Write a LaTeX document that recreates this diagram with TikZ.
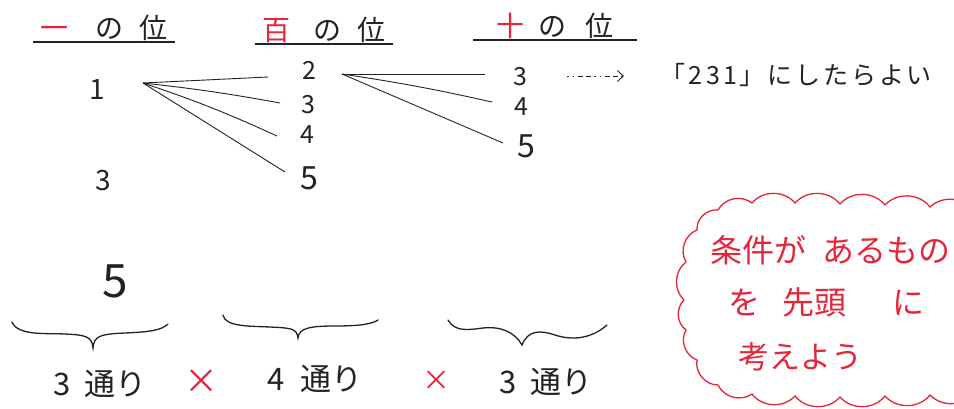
\documentclass[tikz,border=0pt]{standalone}
\usepackage{fontspec}
\setmainfont{Noto Sans CJK JP}
\usetikzlibrary{calc,arrows.meta}
\definecolor{pen}{RGB}{35,35,35}
\definecolor{redpen}{RGB}{228,38,58}
\newcommand{\fs}[1]{\fontsize{#1}{#1}\selectfont}
\begin{document}
\begin{tikzpicture}[x=1pt,y=-1pt,
  hdr/.style={font=\fs{28}, text=pen, inner sep=1pt},
  uline/.style={draw=pen, line width=1.2pt},
  dig/.style={font=\fs{25}, text=pen, inner sep=1pt},
  link/.style={draw=pen, line width=0.9pt},
  bracestroke/.style={draw=pen, line width=1.3pt, line cap=round},
  cnt/.style={font=\fs{31}, text=pen, inner sep=1pt},
  times/.style={text=redpen, inner sep=1pt},
  cloudtxt/.style={text=redpen, inner sep=0pt, anchor=west}]
\useasboundingbox (0,0) rectangle (954,408);
\clip (0,0) rectangle (954,408);
\fill[white] (0,0) rectangle (954,408);

% headers
\node[hdr, minimum width=142pt] (h1) at (104,28) {\textcolor{redpen}{一}\hspace{27pt}の\hspace{17pt}位};
\node[hdr, minimum width=138pt] (h2) at (324,30) {\textcolor{redpen}{百}\hspace{23pt}の\hspace{17pt}位};
\node[hdr, minimum width=163pt] (h3) at (555,26) {\textcolor{redpen}{十}\hspace{14pt}の\hspace{20pt}位};
\draw[uline] (h1.south west) -- (h1.south east);
\draw[uline] (h2.south west) -- (h2.south east);
\draw[uline] (h3.south west) -- (h3.south east);

% first column
\node[dig, font=\fs{28}] (a1) at (97,90) {1};
\node[dig, font=\fs{28}] (a3) at (103,181) {3};
\node[dig, font=\fs{46}] (a5) at (115,281) {5};

% second column
\node[dig] (b2) at (309,70) {2};
\node[dig] (b3) at (308,105) {3};
\node[dig] (b4) at (307,135) {4};
\node[dig, font=\fs{32}] (b5) at (309,178) {5};

% third column
\node[dig] (c3) at (520,77) {3};
\node[dig] (c4) at (521,107) {4};
\node[dig, font=\fs{32}] (c5) at (526,146) {5};

% tree branches
\coordinate (s1) at ($(a1)+(46,-7)$);
\coordinate (s2) at ($(b2)+(33,4)$);
\draw[link] (s1) -- ($(b2)+(-41,7)$);
\draw[link] (s1) to[bend left=2] ($(b3)+(-28,-2)$);
\draw[link] (s1) to[bend left=3] ($(b4)+(-30,1)$);
\draw[link] (s1) -- ($(b5)+(-24,-6)$);
\draw[link] (s2) -- ($(c3)+(-35,-3)$);
\draw[link] (s2) to[bend left=2] ($(c4)+(-29,-5)$);
\draw[link] (s2) -- ($(c5)+(-23,-3)$);

% result
\node[font=\fs{25}, text=pen, inner sep=0pt, anchor=west] (r) at (660,75)
  {「\hspace{3pt}2\hspace{4pt}3\hspace{4pt}1\hspace{2pt}」\hspace{3pt}に\hspace{3pt}し\hspace{3pt}た\hspace{3pt}ら\hspace{3pt}よ\hspace{2pt}い};
\draw[draw=pen, line width=0.9pt, dash pattern=on 1.5pt off 4pt on 1.5pt off 4pt on 5pt off 3pt on 5pt off 3pt,
  -{Straight Barb[length=6pt,width=11pt]}] ($(c3)+(47,-1)$) -- ($(r.west)+(-36,1)$);

% braces
\draw[bracestroke] (12,322) .. controls (18,336) and (45,333) .. (65,334)
  .. controls (85,335) and (92,336) .. (93,348)
  .. controls (94,336) and (100,334) .. (125,333)
  .. controls (150,332) and (162,330) .. (168,324);
\draw[bracestroke] (223,315) .. controls (225,327) and (250,326) .. (270,327)
  .. controls (290,328) and (297,328) .. (298,338)
  .. controls (299,328) and (310,326) .. (335,326)
  .. controls (360,326) and (372,324) .. (378,320);
\draw[bracestroke] (448,320) .. controls (455,332) and (468,330) .. (483,328)
  .. controls (500,326) and (515,332) .. (522,345)
  .. controls (528,330) and (540,330) .. (555,335)
  .. controls (570,340) and (590,340) .. (607,325);

% counts
\node[cnt] (n1) at (100,384) {3\hspace{14pt}通り};
\node[times, font=\fs{34}] (x1) at (201,382) {×};
\node[cnt] (n2) at (315,379) {4\hspace{16pt}通り};
\node[times, font=\fs{28}] (x2) at (436,381) {×};
\node[cnt] (n3) at (546,382) {3\hspace{14pt}通り};

% cloud
\draw[draw=redpen, line width=1.3pt]
  (684,300) to[bend left=50] (686,262) to[bend left=50] (697,230)
  to[bend left=50] (718,210) to[bend left=50] (752,203)
  to[bend left=50] (795,203) to[bend left=50] (840,204)
  to[bend left=50] (885,205) to[bend left=50] (930,207)
  to[bend left=50] (975,212) to[bend left=30] (990,300)
  to[bend left=30] (975,392) to[bend left=50] (930,395)
  to[bend left=50] (885,396) to[bend left=50] (840,397)
  to[bend left=50] (795,396) to[bend left=50] (752,394)
  to[bend left=50] (718,385) to[bend left=50] (697,360)
  to[bend left=50] (686,330) to[bend left=50] (684,300);
\node[cloudtxt, font=\fs{32}] (t1) at (710,250) {条件が\hspace{16pt}あるもの};
\node[cloudtxt, font=\fs{32}] (t2) at (728,302) {を\hspace{22pt}先頭\hspace{46pt}に};
\node[cloudtxt, font=\fs{31}] (t3) at (738,357) {考えよう};
\end{tikzpicture}
\end{document}
